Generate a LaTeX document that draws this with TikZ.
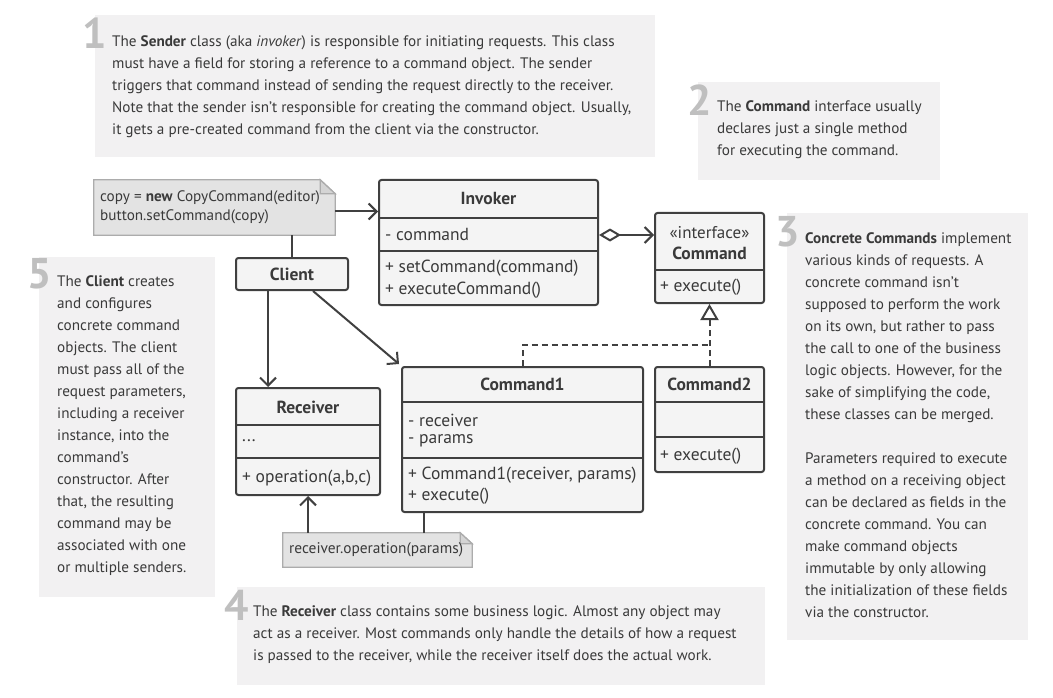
\documentclass[tikz,border=0pt]{standalone}
\usepackage{fontspec}
\setmainfont{PT Sans}
\usetikzlibrary{arrows.meta}
\usetikzlibrary{positioning}
\usetikzlibrary{calc}
\usetikzlibrary{backgrounds}

\definecolor{linegray}{HTML}{404040}
\definecolor{textgray}{HTML}{3A3A3A}
\definecolor{classfill}{HTML}{F4F4F4}
\definecolor{notefill}{HTML}{F2F1F2}
\definecolor{codefill}{HTML}{E3E3E3}
\definecolor{codefold}{HTML}{D4D4D4}
\definecolor{codedraw}{HTML}{ACACAC}
\definecolor{digitgray}{HTML}{BFBFBF}

\tikzset{
  classbox/.style={draw=linegray, fill=classfill, line width=2pt, rounded corners=2.5pt, inner sep=0pt},
  classsep/.style={draw=linegray, line width=2pt},
  classname/.style={inner sep=0pt, text=textgray, font=\bfseries\fontsize{17.5}{22}\selectfont},
  member/.style={anchor=west, inner sep=0pt, text=textgray, font=\fontsize{17.5}{22}\selectfont},
  annotbox/.style={fill=notefill, inner sep=0pt},
  annottext/.style={anchor=north west, inner sep=0pt, align=left, text=textgray, font=\fontsize{15.2}{22}\selectfont},
  digit/.style={anchor=north east, inner sep=0pt, text=digitgray, font=\bfseries\fontsize{43}{43}\selectfont},
  codenote/.style={fill=codefill, draw=codedraw, line width=1.3pt},
  codetext/.style={anchor=west, inner sep=0pt, align=left, text=textgray, font=\fontsize{15.2}{19}\selectfont},
  link/.style={draw=linegray, line width=2pt},
  openarrow/.style={-{Straight Barb[length=8pt, width=16pt]}},
  aggregation/.style={{Diamond[open, length=22pt, width=13pt]}-{Straight Barb[length=8pt, width=16pt]}},
  realization/.style={dash pattern=on 6pt off 4pt},
  implements/.style={-{Triangle[open, length=16pt, width=18pt]}}
}

\begin{document}
\begin{tikzpicture}[x=1pt, y=-1pt]
  \useasboundingbox (0,0) rectangle (1053,698);

  % Numbered explanations
  \node[annotbox, minimum width=560pt, minimum height=142pt] (note1) at (375,86) {};
  \node[annotbox, minimum width=242pt, minimum height=98pt] (note2) at (819,131) {};
  \node[annotbox, minimum width=241pt, minimum height=427pt] (note3) at (907.5,426.5) {};
  \node[annotbox, minimum width=528pt, minimum height=98pt] (note4) at (501,636) {};
  \node[annotbox, minimum width=176pt, minimum height=340pt] (note5) at (127,427) {};

  \node[digit] (num1) at (107,18) {1};
  \node[digit] (num2) at (712,85) {2};
  \node[digit] (num3) at (800,216) {3};
  \node[digit] (num4) at (249,590) {4};
  \node[digit] (num5) at (52,258) {5};

  \node[annottext] (text1) at (112,35) {The \textbf{Sender} class (aka \textit{invoker}) is responsible for initiating requests. This class\\
    must have a field for storing a reference to a command object. The sender\\
    triggers that command instead of sending the request directly to the receiver.\\
    Note that the sender isn't responsible for creating the command object. Usually,\\
    it gets a pre-created command from the client via the constructor.};
  \node[annottext] (text2) at (717,100) {The \textbf{Command} interface usually\\
    declares just a single method\\
    for executing the command.};
  \node[annottext] (text3) at (805,232) {\textbf{Concrete Commands} implement\\
    various kinds of requests. A\\
    concrete command isn't\\
    supposed to perform the work\\
    on its own, but rather to pass\\
    the call to one of the business\\
    logic objects. However, for the\\
    sake of simplifying the code,\\
    these classes can be merged.\\[22pt]
    Parameters required to execute\\
    a method on a receiving object\\
    can be declared as fields in the\\
    concrete command. You can\\
    make command objects\\
    immutable by only allowing\\
    the initialization of these fields\\
    via the constructor.};
  \node[annottext] (text4) at (253,605) {The \textbf{Receiver} class contains some business logic. Almost any object may\\
    act as a receiver. Most commands only handle the details of how a request\\
    is passed to the receiver, while the receiver itself does the actual work.};
  \node[annottext] (text5) at (57,275) {The \textbf{Client} creates\\
    and configures\\
    concrete command\\
    objects. The client\\
    must pass all of the\\
    request parameters,\\
    including a receiver\\
    instance, into the\\
    command's\\
    constructor. After\\
    that, the resulting\\
    command may be\\
    associated with one\\
    or multiple senders.};

  % Code notes
  \node[minimum width=241pt, minimum height=55pt, inner sep=0pt] (copynote) at (214.5,207.5) {};
  \node[codetext] (copytext) at (100,207.5) {copy = \textbf{new} CopyCommand(editor)\\button.setCommand(copy)};
  \node[minimum width=189pt, minimum height=34pt, inner sep=0pt] (recvnote) at (377.5,550) {};
  \node[codetext, font=\fontsize{15.4}{19}\selectfont] (recvtext) at (289,550) {receiver.operation(params)};
  \begin{scope}[on background layer]
    \draw[codenote] (copynote.north west) -- ($(copynote.north east)+(-15,0)$) -- ($(copynote.north east)+(0,14)$)
      -- (copynote.south east) -- (copynote.south west) -- cycle;
    \draw[codenote, fill=codefold] ($(copynote.north east)+(-15,0)$) -- ($(copynote.north east)+(-15,14)$)
      -- ($(copynote.north east)+(0,14)$) -- cycle;
    \draw[codenote] (recvnote.north west) -- ($(recvnote.north east)+(-12,0)$) -- ($(recvnote.north east)+(0,11)$)
      -- (recvnote.south east) -- (recvnote.south west) -- cycle;
    \draw[codenote, fill=codefold] ($(recvnote.north east)+(-12,0)$) -- ($(recvnote.north east)+(-12,11)$)
      -- ($(recvnote.north east)+(0,11)$) -- cycle;
  \end{scope}

  % Invoker
  \node[classbox, minimum width=219pt, minimum height=125pt] (invoker) at (488.5,242.5) {};
  \draw[classsep] (invoker.west |- {(0,218)}) -- (invoker.east |- {(0,218)});
  \draw[classsep] (invoker.west |- {(0,251)}) -- (invoker.east |- {(0,251)});
  \node[classname] at (488.5,198) {Invoker};
  \node[member] at (385,234) {- command};
  \node[member] at (385,268) {+ setCommand(command)};
  \node[member] at (385,290) {+ executeCommand()};

  % Command interface
  \node[classbox, minimum width=109pt, minimum height=90pt] (command) at (709.5,258) {};
  \draw[classsep] (command.west |- {(0,270)}) -- (command.east |- {(0,270)});
  \node[inner sep=0pt, text=textgray, font=\fontsize{17}{22}\selectfont] at (709.5,233) {«interface»};
  \node[classname] at (709.5,253) {Command};
  \node[member] at (660,287) {+ execute()};

  % Client
  \node[classbox, minimum width=112pt, minimum height=32pt] (client) at (292,274) {};
  \node[classname] at (292,274) {Client};

  % Receiver
  \node[classbox, minimum width=144pt, minimum height=107pt] (receiver) at (308,441.5) {};
  \draw[classsep] (receiver.west |- {(0,425)}) -- (receiver.east |- {(0,425)});
  \draw[classsep] (receiver.west |- {(0,458)}) -- (receiver.east |- {(0,458)});
  \node[classname] at (308,407) {Receiver};
  \node[member] at (242,441) {...};
  \node[member] at (242,478) {+ operation(a,b,c)};

  % Command1
  \node[classbox, minimum width=241pt, minimum height=145pt] (command1) at (522.5,439.5) {};
  \draw[classsep] (command1.west |- {(0,402)}) -- (command1.east |- {(0,402)});
  \draw[classsep] (command1.west |- {(0,458)}) -- (command1.east |- {(0,458)});
  \node[classname] at (522.5,384) {Command1};
  \node[member] at (408,420) {- receiver};
  \node[member] at (408,441) {- params};
  \node[member] at (408,475) {+ Command1(receiver, params)};
  \node[member] at (408,496) {+ execute()};

  % Command2
  \node[classbox, minimum width=109pt, minimum height=105pt] (command2) at (709.5,419.5) {};
  \draw[classsep] (command2.west |- {(0,402)}) -- (command2.east |- {(0,402)});
  \draw[classsep] (command2.west |- {(0,437)}) -- (command2.east |- {(0,437)});
  \node[classname] at (709.5,384) {Command2};
  \node[member] at (660,456) {+ execute()};

  % Connectors
  \draw[link, openarrow] ([yshift=-4pt]copynote.east) -- ([yshift=-4pt]copynote.east -| invoker.west);
  \draw[link] (client.north) -- (client.north |- copynote.south);
  \draw[link, openarrow] ([xshift=-24pt]client.south) -- ([xshift=-24pt]client.south |- receiver.north);
  \draw[link, openarrow] ([xshift=21pt]client.south) -- ([shift={(-2pt,2pt)}]command1.north west);
  \coordinate (aggy) at (0,235);
  \draw[link, aggregation] (invoker.east |- aggy) -- (command.west |- aggy);
  \coordinate (realy) at (0,345);
  \draw[link, realization] (command1.north) |- (command2.north |- realy);
  \draw[link, realization, implements] (command2.north) -- (command.south);
  \coordinate (callx) at (424,0);
  \draw[link] (command1.south -| callx) -- (recvnote.north -| callx);
  \draw[link, openarrow] (recvnote.north -| receiver.south) -- (receiver.south);
\end{tikzpicture}
\end{document}
